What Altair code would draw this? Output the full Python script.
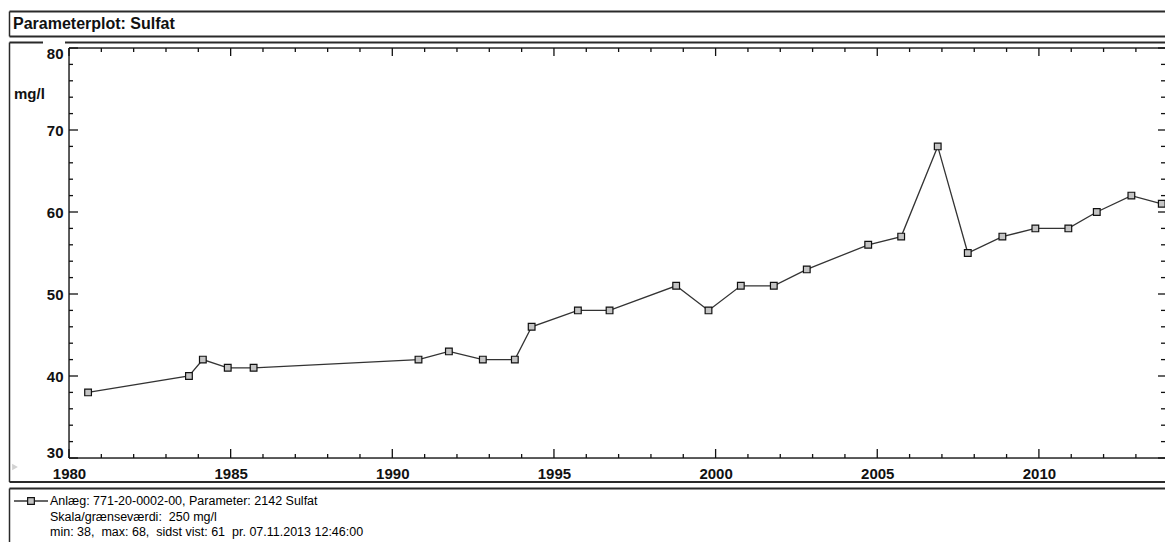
import altair as alt
import pandas as pd

# ---------------- data ----------------
years = [1980.59, 1983.71, 1984.14, 1984.91, 1985.71, 1990.81, 1991.75, 1992.80,
         1993.79, 1994.31, 1995.74, 1996.72, 1998.78, 1999.78, 2000.78, 2001.80,
         2002.82, 2004.72, 2005.74, 2006.87, 2007.80, 2008.87, 2009.89, 2010.91,
         2011.79, 2012.86, 2013.80]
sulfat = [38, 40, 42, 41, 41, 42, 43, 42, 42, 46, 48, 48, 51, 48, 51, 51, 53, 56,
          57, 68, 55, 57, 58, 58, 60, 62, 61]

x_label_values = [1980, 1985, 1990, 1995, 2000, 2005, 2010]
x_minor_ticks = [1981, 1982, 1983, 1984, 1986, 1987, 1988, 1989, 1991, 1992, 1993,
                 1994, 1996, 1997, 1998, 1999, 2001, 2002, 2003, 2004, 2006, 2007,
                 2008, 2009, 2011, 2012, 2013]
y_label_values = [30, 40, 50, 60, 70, 80]
y_minor_ticks = [32, 34, 36, 38, 42, 44, 46, 48, 52, 54, 56, 58, 62, 64, 66, 68,
                 72, 74, 76, 78]

title_text = ["Parameterplot: Sulfat"]
unit_text = ["mg/l"]
legend_lines = ["Anlæg: 771-20-0002-00, Parameter: 2142 Sulfat",
                "Skala/grænseværdi:\u00a0 250 mg/l",
                "min: 38,\u00a0 max: 68,\u00a0 sidst vist: 61\u00a0 pr. 07.11.2013 12:46:00"]

# ---------------- layout ----------------
W, H = 1096, 410
FONT = "Liberation Sans"
FRAME = "#2a2a2a"
TXT = "#111111"
LINE = "#333333"
SQ_FILL = "#c4c4c4"

df = pd.DataFrame({"year": years, "value": sulfat})
one = pd.DataFrame({"k": [0]})

xscale = alt.Scale(domain=[1980, 2013.9], nice=False, zero=False)
yscale = alt.Scale(domain=[30, 80], nice=False, zero=False)

x_axis = alt.Axis(values=x_label_values, format="d", ticks=False, tickSize=0, domain=False,
                  grid=False, labelFont=FONT, labelFontSize=15, labelFontWeight="bold",
                  labelColor=TXT, labelPadding=8, labelFlush=False, labelOverlap=False, title=None)
y_axis = alt.Axis(values=y_label_values, ticks=False, tickSize=0, domain=False, grid=False,
                  labelFont=FONT, labelFontSize=15, labelFontWeight="bold", labelColor=TXT,
                  labelPadding=6, labelFlush=True, labelFlushOffset=2, labelOverlap=False,
                  title=None)


def hline(x1, x2, y, w=1.5, color=FRAME):
    return alt.Chart(one).mark_rule(color=color, strokeWidth=w).encode(
        x=alt.value(x1), x2=alt.value(x2), y=alt.value(y))


def vline(x, y1, y2, w=1.5, color=FRAME):
    return alt.Chart(one).mark_rule(color=color, strokeWidth=w).encode(
        x=alt.value(x), y=alt.value(y1), y2=alt.value(y2))


def xticks(vals, y1, y2):
    return alt.Chart(pd.DataFrame({"year": vals})).mark_rule(color="#111", strokeWidth=1.3).encode(
        x=alt.X("year:Q", scale=xscale, axis=x_axis), y=alt.value(y1), y2=alt.value(y2))


def yticks(vals, x1, x2):
    return alt.Chart(pd.DataFrame({"value": vals})).mark_rule(color="#111", strokeWidth=1.3).encode(
        y=alt.Y("value:Q", scale=yscale, axis=y_axis), x=alt.value(x1), x2=alt.value(x2))


base = alt.Chart(df).encode(
    x=alt.X("year:Q", scale=xscale, axis=x_axis),
    y=alt.Y("value:Q", scale=yscale, axis=y_axis),
)
line = base.mark_line(color=LINE, strokeWidth=1.3)
points = base.mark_point(shape="square", filled=True, fill=SQ_FILL, stroke="#111",
                         strokeWidth=1.2, size=45, opacity=1)

# plot frame (left, top, bottom)
frame = [hline(0, W, 0), hline(0, W, H), vline(0, 0, H)]
ticks = [
    xticks(x_minor_ticks, H, H - 4), xticks(x_label_values, H, H - 9),
    xticks(x_minor_ticks, 0, 4), xticks(x_label_values, 0, 8),
    yticks(y_minor_ticks, 0, 4), yticks(y_label_values, 0, 9),
    yticks(y_minor_ticks, W, W - 4), yticks(y_label_values, W, W - 7),
]

# outer boxes
boxes = [
    hline(-59.5, W, -36.5, 2), hline(-59.5, W, -11.5, 2), vline(-59.5, -36.5, -11.5),
    hline(-59.5, -26, -5.5, 2), hline(-4, W, -5.5, 2), vline(-59.5, -5.5, 434),
    hline(-59.5, W, 434, 2),
    hline(-59.5, W, 440.5, 2), vline(-59.5, 440.5, 494),
]

title = alt.Chart(pd.DataFrame({"t": title_text})).mark_text(
    font=FONT, fontSize=16, fontWeight="bold", color=TXT, align="left", baseline="alphabetic"
).encode(x=alt.value(-56), y=alt.value(-19), text="t:N")

unit = alt.Chart(pd.DataFrame({"t": unit_text})).mark_text(
    font=FONT, fontSize=15, fontWeight="bold", color=TXT, align="left", baseline="alphabetic"
).encode(x=alt.value(-55), y=alt.value(51), text="t:N")

arrow = alt.Chart(one).mark_point(shape="triangle-right", filled=True, color="#d2d2d2",
                                  size=45, opacity=1).encode(x=alt.value(-54), y=alt.value(419))

leg_line = hline(-55, -21, 453, 1.3, LINE)
leg_sq = alt.Chart(one).mark_point(shape="square", filled=True, fill=SQ_FILL, stroke="#111",
                                   strokeWidth=1.2, size=45, opacity=1).encode(
    x=alt.value(-38), y=alt.value(453))

leg_texts = []
for txt, yy in zip(legend_lines, [457, 473, 488]):
    leg_texts.append(
        alt.Chart(pd.DataFrame({"t": [txt]})).mark_text(
            font=FONT, fontSize=12.5, color="#000", align="left", baseline="alphabetic",
            fontWeight=500
        ).encode(x=alt.value(-19), y=alt.value(yy), text="t:N")
    )

chart = alt.layer(
    *boxes, *frame, *ticks, line, points, title, unit, arrow, leg_line, leg_sq, *leg_texts
).properties(
    width=W, height=H,
    autosize=alt.AutoSizeParams(type="none"),
    padding={"left": 61, "top": 40, "right": 0, "bottom": 84},
).configure_view(stroke=None).configure(background="white")

chart.save("out.html", embed_options={"renderer": "svg", "actions": False})
